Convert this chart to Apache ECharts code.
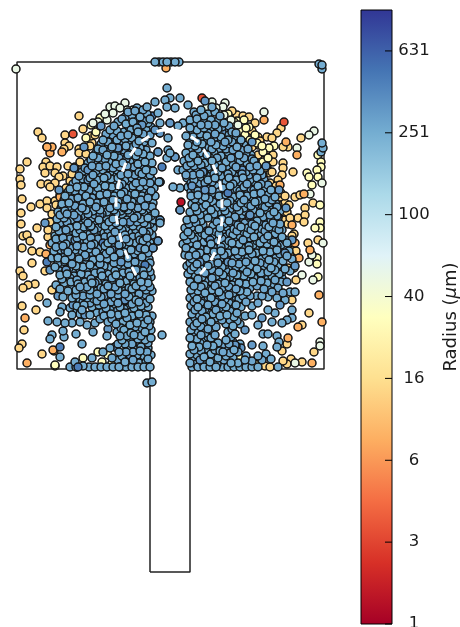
<!DOCTYPE html>
<html><head><meta charset="utf-8">
<style>html,body{margin:0;padding:0;background:#fff}#c{width:460px;height:627px}</style>
<script src="https://cdn.jsdelivr.net/npm/echarts@6/dist/echarts.min.js"></script>
</head><body><div id="c"></div>
<script>
// Domain outline (position units)
const wallX=[150,150,17,17,324,324,190,190,150];
const wallY=[572,369,369,62,62,369,369,572,572];
// White dashed arch
const archX=[136,128,120,116,118,123,132,145,168,193,207,216,221,222,220,212,200];
const archY=[275,258,235,205,187,170,153,139,130,138,155,172,190,210,235,258,274];
// Colour bar
const tickLabels=['1','3','6','16','40','100','251','631'];
const tickValues=[0,0.4,0.8,1.2,1.6,2,2.4,2.8];
const cmap=['#a50026','#d73027','#f46d43','#fdae61','#fee090','#ffffbf','#e0f3f8','#abd9e9','#74add1','#4575b4','#313695'];
// Flat x,y lists, one per radius class (µm)
const fines8=[62,152,50,153,50,245,60,197,54,351,27,363,25,318,53,350,264,120,286,142,297,155,273,191,304,194,295,243,310,250,299,258,319,295,322,322,298,327,288,338,312,363,280,185,52,147,47,147,46,254,292,225,166,68];
const fines3=[73,134,202,98,284,122];
const fines1=[181,202];
const fines14=[38,132,42,138,79,116,65,135,65,143,69,146,64,149,47,147,79,149,79,153,92,143,91,136,95,135,27,162,20,169,46,162,43,167,50,166,57,167,68,166,75,167,45,173,55,173,63,176,59,177,20,179,21,185,41,184,48,184,55,183,50,187,22,199,31,207,40,204,47,201,55,201,47,208,63,205,21,213,21,224,37,228,23,236,27,235,30,241,22,248,48,237,32,251,40,252,32,263,45,271,20,271,23,276,35,284,28,285,23,288,52,290,39,297,22,306,36,310,24,330,22,344,19,348,55,366,42,354,83,129,281,128,277,133,267,137,272,138,258,137,301,138,288,147,283,147,283,163,283,168,282,175,278,180,293,172,295,197,300,195,285,203,289,205,278,205,305,208,313,203,298,218,305,215,304,222,285,220,294,234,291,247,308,243,318,240,296,251,302,325,309,313,287,344,282,351,314,352,302,362,291,359,287,364,283,361,265,366,270,367,237,115,243,116,249,117,232,111,255,123,258,145,267,150,262,160,273,155,273,162,267,167,269,173,263,175,270,183,276,192,280,197,274,205,284,212,288,224,292,236,290,255,288,268,296,280,292,300,
 70,181,66,188,60,195,56,205,52,214,50,222,48,230,72,174,80,162,86,154,90,146,252,131,260,141,252,147,258,155,265,168,272,172,276,186,281,193,285,196,287,212,290,218,293,243,294,268];
const fines30=[91,125,96,132,100,118,318,155,321,162,321,167,317,170,307,173,309,177,318,177,312,185,320,205,320,222,320,228,315,228,312,255,317,258,317,264,318,277,237,121,244,120,249,127,240,131,228,114,274,146,269,148,263,152,257,143,263,162,245,135,250,140,83,358,98,352,102,362,77,367,112,363,55,365,120,360,126,352,108,355,135,340,128,332,200,350,215,345,225,362,240,358,232,348,255,364,100,126,86,138,234,122,246,128,255,135,262,146,268,158];
const fines50=[16,69,264,112,225,103,223,107,212,102,207,107,297,148,314,131,309,135,310,194,322,183,323,243,309,262,312,255,302,275,313,280,320,342,320,346,295,363,110,107,115,106,125,103,133,110,107,120,98,122,93,123,113,113,127,110,120,108,105,114,238,125,216,108,224,115,231,120];
const core250=[
167,88, 165,100, 170,98, 180,98, 155,102, 167,107, 175,108, 188,105, 147,107, 137,108,
125,117, 132,115, 140,117, 147,114, 158,113, 194,112, 201,110, 208,114, 215,112,
118,122, 126,124, 133,122, 140,125, 148,123, 160,123, 170,123, 178,126, 183,123, 190,120, 197,119, 204,122, 211,120, 218,121, 224,123,
110,130, 117,131, 124,132, 131,130, 138,132, 146,130, 160,133, 190,128, 197,130, 204,128, 211,131, 218,129, 225,130, 232,132,
103,140, 110,138, 117,140, 125,139, 132,138, 139,141, 147,138, 168,138, 186,136, 193,137, 200,139, 207,136, 214,138, 221,137, 228,140, 235,138, 241,140,
98,149, 105,146, 112,147, 119,148, 126,146, 133,147, 140,148, 152,143, 188,145, 195,146, 202,144, 209,147, 216,145, 223,146, 230,144, 237,147, 244,145,
93,156, 100,154, 107,155, 114,156, 121,154, 128,155, 136,156, 143,154, 150,156, 158,152, 168,150, 170,153, 186,153, 193,155, 200,153, 207,155, 214,153, 221,156, 228,153, 239,155, 246,153, 251,155,
88,163, 95,162, 102,163, 109,162, 116,164, 123,163, 130,162, 138,164, 145,162, 152,163, 167,158, 175,157, 184,161, 191,163, 198,161, 205,163, 212,161, 219,164, 226,162, 233,164, 240,161, 247,163, 254,161,
82,172, 89,170, 96,171, 103,170, 110,172, 117,170, 124,171, 132,170, 139,172, 146,170, 153,171, 178,170, 183,170, 190,171, 197,169, 204,172, 211,170, 218,172, 225,170, 232,172, 239,169, 246,172, 253,170, 260,171,
76,181, 83,179, 90,178, 97,180, 104,178, 111,179, 118,178, 125,180, 132,178, 139,179, 146,178, 152,180, 159,182, 187,178, 194,180, 201,178, 208,180, 215,178, 222,181, 229,178, 236,180, 243,178, 250,180, 257,178, 264,180,
70,189, 77,187, 84,187, 91,186, 98,188, 105,186, 112,187, 119,186, 126,188, 133,186, 140,187, 147,186, 154,188, 173,187, 180,188, 188,187, 195,189, 202,187, 209,189, 216,186, 223,188, 230,186, 237,189, 244,187, 251,189, 258,186, 265,188, 271,190,
65,196, 72,195, 79,194, 86,196, 93,194, 100,195, 107,194, 114,196, 121,194, 128,195, 135,194, 142,196, 149,194, 155,196, 191,196, 198,195, 205,197, 212,194, 219,196, 226,195, 233,197, 240,195, 247,196, 254,194, 261,197, 268,195, 275,197,
62,204, 69,203, 76,202, 83,204, 90,202, 97,203, 104,202, 111,204, 118,202, 125,203, 132,202, 139,204, 146,202, 153,203, 192,204, 199,203, 206,205, 213,202, 220,204, 227,203, 234,205, 241,203, 248,204, 255,202, 262,205, 269,203, 276,204,
58,212, 65,211, 72,210, 79,212, 86,210, 93,211, 100,210, 107,212, 114,210, 121,211, 128,210, 135,212, 142,210, 149,211, 155,213, 180,210, 190,212, 197,211, 204,213, 211,210, 218,212, 225,211, 232,213, 239,211, 246,212, 253,210, 260,213, 267,211, 274,212, 280,211,
57,219, 64,218, 71,220, 78,218, 85,219, 92,218, 99,220, 106,218, 113,219, 120,218, 127,220, 134,218, 141,219, 148,218, 154,220, 160,220, 187,220, 194,219, 201,221, 208,218, 215,220, 222,219, 229,221, 236,219, 243,220, 250,218, 257,221, 264,219, 271,220, 278,218,
56,227, 63,226, 70,228, 77,226, 84,227, 91,226, 98,228, 105,226, 112,227, 119,226, 126,228, 133,226, 140,227, 147,226, 153,228, 160,223, 185,228, 192,227, 199,229, 213,226, 220,228, 227,227, 234,229, 241,227, 248,228, 255,226, 262,229, 269,227, 276,228, 282,230,
55,236, 62,234, 69,235, 76,233, 83,236, 90,234, 97,235, 104,233, 111,236, 118,234, 125,235, 132,233, 139,236, 146,234, 152,235, 184,236, 191,235, 198,237, 205,235, 212,236, 219,234, 226,237, 233,235, 240,236, 247,234, 254,237, 261,235, 268,236, 275,234, 282,237,
52,243, 59,242, 66,244, 73,242, 80,243, 87,241, 94,244, 101,242, 108,243, 115,241, 122,244, 129,242, 136,243, 143,241, 150,243, 158,241, 183,244, 190,243, 197,245, 204,242, 211,244, 218,243, 225,245, 232,243, 239,244, 246,242, 253,245, 260,243, 267,244, 274,242, 281,245, 287,243,
54,251, 61,250, 68,252, 75,250, 82,251, 89,249, 96,252, 103,250, 110,251, 117,249, 124,252, 131,250, 138,251, 145,249, 153,248, 186,252, 193,251, 200,253, 207,250, 214,252, 221,251, 228,253, 235,251, 242,252, 249,250, 256,253, 263,251, 270,252, 277,250, 284,253, 289,251,
52,258, 58,258, 65,260, 72,258, 79,259, 86,257, 93,260, 100,258, 107,259, 114,257, 121,260, 128,258, 135,259, 142,257, 149,259, 185,255, 192,259, 199,261, 206,258, 213,260, 220,259, 227,261, 234,259, 241,260, 248,258, 255,261, 262,259, 269,260, 276,258, 283,261, 292,259,
55,267, 62,266, 69,268, 76,266, 83,267, 90,265, 97,268, 104,266, 111,267, 118,265, 125,268, 132,266, 139,267, 148,268, 187,266, 194,267, 201,269, 208,266, 215,268, 222,267, 229,269, 236,267, 243,268, 250,266, 257,269, 264,267, 271,268, 278,266, 285,269,
60,275, 67,274, 74,276, 81,274, 88,275, 95,273, 102,276, 109,274, 116,275, 123,273, 130,276, 137,274, 144,275, 151,277, 188,274, 195,275, 202,277, 209,274, 216,276, 223,275, 230,277, 237,275, 244,276, 251,274, 258,277, 272,276, 279,274, 290,271,
56,285, 64,283, 71,282, 78,284, 85,282, 92,283, 99,281, 106,284, 113,282, 120,283, 127,281, 134,284, 141,282, 148,283, 190,282, 197,283, 204,285, 211,282, 218,284, 225,283, 232,285, 239,283, 246,284, 253,282, 260,285, 267,283, 274,284, 281,282,
63,297, 68,291, 76,290, 83,292, 90,290, 97,291, 104,289, 111,292, 118,290, 125,291, 132,289, 139,292, 146,290, 152,291, 191,290, 198,291, 205,293, 212,290, 219,292, 226,291, 233,293, 240,291, 247,292, 268,297, 277,298, 257,296, 290,292, 295,292,
47,303, 72,298, 80,300, 87,298, 94,299, 101,297, 108,300, 115,298, 122,299, 129,297, 136,300, 143,298, 150,299, 190,298, 197,299, 204,301, 211,298, 218,300, 225,299, 232,301, 239,299, 285,300,
62,307, 70,308, 77,306, 84,305, 92,307, 99,305, 106,308, 113,306, 120,307, 127,305, 134,308, 141,306, 148,307, 191,306, 198,307, 205,309, 212,306, 219,308, 226,307, 233,309, 241,307, 252,306, 268,310, 275,313, 292,310,
60,312, 48,321, 72,315, 80,314, 90,315, 97,313, 104,316, 111,314, 118,315, 125,313, 132,316, 139,314, 146,315, 152,316, 192,314, 199,315, 206,317, 213,314, 220,316, 227,315, 234,317, 245,316, 252,315, 292,318, 287,320, 282,323,
57,322, 65,323, 72,323, 80,322, 87,325, 95,323, 108,322, 116,324, 123,322, 130,325, 137,323, 144,324, 150,322, 190,322, 197,323, 204,325, 211,322, 226,324, 233,326, 240,324, 258,325, 272,322,
63,331, 52,335, 50,339, 64,337, 76,334, 93,332, 107,336, 117,332, 124,330, 131,333, 138,331, 145,332, 151,330, 162,335, 191,330, 198,331, 205,333, 212,330, 228,332, 235,334, 263,334, 268,334, 277,336,
82,344, 122,340, 130,341, 138,339, 145,340, 151,338, 190,338, 197,339, 204,341, 211,338, 218,343, 226,340, 233,342, 240,344, 279,342,
110,348, 115,347, 127,348, 134,349, 141,347, 148,348, 192,346, 199,347, 206,349, 213,346, 220,351, 227,348, 234,350, 263,346, 277,347,
60,357, 75,362, 92,358, 103,352, 122,356, 130,357, 137,355, 144,356, 151,355, 190,354, 197,355, 204,357, 211,354, 218,358, 226,356, 233,358, 246,356, 258,356, 266,354, 271,359,
83,366, 70,367, 76,367, 89,367, 95,367, 101,367, 107,367, 113,367, 119,367, 125,362, 132,364, 139,363, 146,362, 150,367, 190,363, 196,364, 203,363, 210,362, 217,364, 231,363, 238,363,
126,367, 132,367, 138,367, 144,367, 192,367, 198,367, 204,367, 210,367, 216,367, 222,367, 228,367, 234,367, 240,367, 246,367, 252,367, 258,367, 278,367,
147,383, 152,382, 155,62, 159,62, 163,62, 167,62, 171,62, 175,62, 179,62, 319,64, 322,65, 322,69, 322,143, 323,148, 321,152];
const core270=[
128,112,135,111,143,110,150,119,196,115,204,116,212,107,220,116,
114,126,122,119,129,127,137,128,144,121,151,127,194,124,201,125,208,125,215,125,222,127,229,126,
106,134,113,135,121,136,128,135,135,136,143,134,150,135,193,133,200,134,208,133,215,134,222,133,229,135,236,133,
101,144,108,142,115,144,122,143,129,142,136,144,144,142,190,141,197,142,204,141,211,142,218,141,225,142,232,142,239,143,
96,153,103,150,110,151,117,152,124,150,131,151,138,152,146,150,191,150,198,149,205,150,212,149,219,150,226,149,233,150,241,150,248,149,
91,160,98,158,105,159,112,160,119,158,126,159,133,160,140,158,147,159,189,158,196,158,203,157,210,158,217,158,224,159,231,158,238,159,244,158,252,159,
85,168,92,166,99,167,106,166,113,168,120,167,127,166,134,167,142,168,149,166,187,166,194,166,201,165,208,167,215,166,222,168,229,167,236,167,243,166,250,167,257,166,
79,176,86,174,93,175,100,174,107,176,114,174,121,175,128,174,135,175,142,174,150,175,186,175,193,175,200,174,207,176,214,174,221,176,228,174,235,176,242,174,249,175,256,174,262,175,
73,184,80,183,87,182,94,184,101,182,108,183,115,182,122,184,129,182,136,183,143,182,150,183,191,183,198,184,205,183,212,182,219,184,226,182,233,184,240,183,247,184,254,182,261,184,268,185,
68,192,75,191,82,191,89,190,96,191,103,190,110,191,117,190,124,192,131,190,137,191,144,190,151,191,191,192,198,191,205,193,212,190,219,192,226,191,233,193,240,191,247,192,254,190,261,193,268,191,
64,200,71,199,78,198,85,200,92,198,99,199,106,198,113,200,120,198,127,199,134,198,141,200,148,198,195,199,202,200,209,199,216,200,223,199,230,201,237,199,244,200,251,198,258,201,265,199,272,200,
61,208,68,207,75,206,82,208,89,206,96,207,103,206,110,208,117,206,124,207,131,206,138,208,145,206,152,207,195,207,202,208,209,206,216,208,223,207,230,209,237,207,244,208,251,206,258,209,265,207,272,208,277,207,
60,215,67,214,74,215,81,216,88,214,95,215,102,214,109,216,116,214,123,215,130,214,137,216,144,214,151,216,193,216,200,215,207,217,214,214,221,216,228,215,235,217,242,215,249,216,256,214,263,217,270,215,277,216,
60,223,67,222,74,223,81,222,88,223,95,222,102,224,109,222,116,223,123,222,130,224,137,222,144,223,150,224,189,224,196,223,203,225,217,222,224,224,231,223,238,225,245,223,252,224,259,222,266,225,273,223,280,224,
59,231,66,230,73,231,80,230,87,232,94,230,101,231,108,230,115,232,122,230,129,231,136,230,143,231,149,232,188,232,195,231,202,233,209,231,216,232,223,230,230,233,237,231,244,232,251,230,258,233,265,231,272,232,279,230,
56,239,63,238,70,239,77,238,84,240,91,238,98,239,105,237,112,240,119,238,126,239,133,237,140,240,147,238,187,240,194,239,201,241,208,238,215,240,222,239,229,241,236,239,243,240,250,238,257,241,264,239,271,240,278,238,285,240,
56,247,63,246,70,248,77,246,84,247,91,245,98,248,105,246,112,247,119,245,126,248,133,246,140,247,147,245,186,248,193,247,200,249,207,246,214,248,221,247,228,249,235,247,242,248,249,246,256,249,263,247,270,248,277,246,284,248,
57,254,64,254,71,256,78,254,85,255,92,253,99,256,106,254,113,255,120,253,127,256,134,254,141,255,148,253,189,256,196,255,203,257,210,254,217,256,224,255,231,257,238,255,245,256,252,254,259,257,266,255,273,256,280,254,287,256,
58,263,65,262,72,264,79,262,86,263,93,261,100,264,107,262,114,263,121,261,128,264,135,262,142,263,150,263,190,263,197,264,204,262,211,264,218,263,225,265,232,263,239,264,246,262,253,265,260,263,267,264,274,262,281,265,
60,271,66,270,73,272,80,270,87,271,94,269,101,272,108,270,115,271,122,269,129,272,136,270,143,271,150,272,191,270,198,271,205,273,212,270,219,272,226,271,233,273,240,271,247,272,254,270,261,273,268,272,275,270,282,272,
62,279,70,278,77,280,84,278,91,279,98,277,105,280,112,278,119,279,126,277,133,280,140,278,147,279,191,278,198,279,205,281,212,278,219,280,226,279,233,281,240,279,247,280,254,278,261,281,268,279,275,280,282,278,
60,289,72,287,80,287,87,287,94,286,101,288,108,286,115,287,122,285,129,288,136,286,143,287,150,287,194,286,201,287,208,289,215,286,222,288,229,287,236,289,243,287,250,288,257,286,264,289,271,287,278,288,
76,295,83,296,90,295,97,294,104,296,111,294,118,295,125,294,132,296,139,294,146,295,194,294,201,295,208,297,215,294,222,296,229,295,236,297,243,296,250,296,262,296,272,292,283,293,
76,303,83,302,90,303,97,301,104,304,111,302,118,303,125,301,132,304,139,302,146,303,194,302,201,303,208,305,215,302,222,304,229,303,236,305,246,302,258,303,
73,311,82,310,96,309,103,312,110,310,117,311,124,309,131,312,138,310,145,311,195,310,202,311,209,313,216,310,223,312,230,311,237,313,
100,319,112,319,120,320,127,318,134,320,141,319,148,320,195,318,202,319,209,321,216,318,222,320,230,320,237,321,
121,328,128,328,135,327,142,328,149,326,194,326,201,327,208,329,216,327,232,329,
120,336,127,336,134,335,141,336,148,334,194,334,201,335,208,337,215,335,231,337,
118,344,125,344,132,344,140,344,148,343,193,342,200,343,207,345,214,342,222,345,229,344,236,346,
119,352,126,352,133,352,140,351,147,352,194,350,201,351,208,353,215,350,223,352,230,353,238,352,245,360,
112,358,118,360,125,359,133,360,140,359,148,359,193,358,200,359,207,361,214,358,224,360,252,361,262,360];
const core320=[132,150,108,168,88,180,118,190,100,215,130,222,75,240,112,250,66,270,95,283,125,300,85,315,140,340,130,355,160,220,158,241,153,248,158,152,175,157,180,210,145,190,212,150,242,170,205,190,255,205,236,222,268,240,200,262,240,275,220,295,205,330,235,345,200,360,160,133,170,123,142,125,65,250,285,253,121,262,160,182,192,186,228,262,148,212,
 84,147,74,168,59,190,45,223,50,270,58,296,88,170,101,126,140,133,155,130,205,101,222,132,252,142,266,166,279,190,286,208,292,240,295,266,287,282,280,305,262,318,245,330,252,345,228,142,97,258,77,218,124,208,140,248,210,240,250,215,203,172,118,148,73,305,108,329,241,348];
const core450=[152,116,162,167,160,182,90,227,103,243,145,265,47,262,60,347,228,193,267,275,115,347,78,367,120,367,215,367];
const core750=[232,155,207,231,113,277];

const fineLists=[[14,fines14],[30,fines30],[50,fines50],[8,fines8],[3,fines3]];
const coreLists=[[250,core250],[270,core270],[320,core320],[450,core450],[750,core750]];
function toPoints(lists){const out=[];lists.forEach(function(e){const r=e[0],a=e[1];for(let i=0;i+1<a.length;i+=2)out.push([a[i],a[i+1],Math.log10(r)]);});return out;}
// Draw order only: mix the core so overlaps do not follow the order of the lists
const drawKey=p=>(p[0]*7919+p[1]*104729)%1009;
const corePoints=toPoints(coreLists).sort((a,b)=>drawKey(a)-drawKey(b));
const points=toPoints(fineLists).concat(corePoints,toPoints([[1.3,fines1]]));

const chart=echarts.init(document.getElementById('c'),null,{renderer:'canvas'});
chart.setOption({
  animation:false,backgroundColor:'#fff',
  grid:[{left:17,top:62,width:307,height:510,outerBoundsMode:'none'},{left:361,top:10,width:31,height:614,outerBoundsMode:'none'}],
  xAxis:[{gridIndex:0,type:'value',min:17,max:324,show:false},{gridIndex:1,type:'value',min:0,max:1,show:false}],
  yAxis:[
   {gridIndex:0,type:'value',min:62,max:572,inverse:true,show:false},
   {gridIndex:1,type:'value',min:0,max:3,interval:0.4,position:'right',z:10,splitLine:{show:false},
    axisLine:{show:false},axisTick:{show:false},
    axisLabel:{show:true,margin:22,align:'center',fontFamily:'DejaVu Sans',fontSize:16.5,color:'#1a1a1a',showMaxLabel:false,
      formatter:function(v){const i=Math.round(v/0.4);return Math.abs(i*0.4-v)<1e-6&&i<tickLabels.length?tickLabels[i]:'';}},
    name:'Radius ({i|μ}m)',nameLocation:'middle',nameRotate:90,nameGap:50,
    nameTextStyle:{fontFamily:'DejaVu Sans',fontSize:18,color:'#1a1a1a',rich:{i:{fontFamily:'DejaVu Sans',fontSize:18,fontStyle:'italic',color:'#1a1a1a'}}}}
  ],
  visualMap:{type:'continuous',show:false,seriesIndex:1,dimension:2,min:0,max:3,inRange:{color:cmap}},
  series:[
   {type:'line',z:1,silent:true,symbol:'none',xAxisIndex:0,yAxisIndex:0,clip:false,
    lineStyle:{color:'#222',width:1.5},data:wallX.map((x,i)=>[x,wallY[i]])},
   {type:'scatter',z:2,silent:true,xAxisIndex:0,yAxisIndex:0,clip:false,symbolSize:8,large:false,
    itemStyle:{borderColor:'#141414',borderWidth:1.5,opacity:1},data:points},
   {type:'line',z:3,silent:true,symbol:'none',xAxisIndex:0,yAxisIndex:0,clip:false,smooth:true,
    lineStyle:{color:'#fff',width:3,type:[9,9]},data:archX.map((x,i)=>[x,archY[i]])},
   {type:'custom',z:2,silent:true,xAxisIndex:1,yAxisIndex:1,clip:false,data:[[0,3,1,0]],
    encode:{x:[0,2],y:[1,3]},
    renderItem:function(params,api){
      const a=api.coord([api.value(0),api.value(1)]),b=api.coord([api.value(2),api.value(3)]);
      return {type:'rect',shape:{x:a[0],y:a[1],width:b[0]-a[0],height:b[1]-a[1]},
        style:{fill:new echarts.graphic.LinearGradient(0,1,0,0,cmap.map((c,i)=>({offset:i/(cmap.length-1),color:c}))),stroke:'#000',lineWidth:1}};
    }},
   {type:'custom',z:4,silent:true,xAxisIndex:1,yAxisIndex:1,clip:false,data:tickValues.map(v=>[1,v]),
    encode:{x:0,y:1},
    renderItem:function(params,api){
      const p=api.coord([api.value(0),api.value(1)]);
      return {type:'line',shape:{x1:p[0]-7,y1:p[1],x2:p[0],y2:p[1]},style:{stroke:'#000',lineWidth:1}};
    }}
  ]
});
</script></body></html>
